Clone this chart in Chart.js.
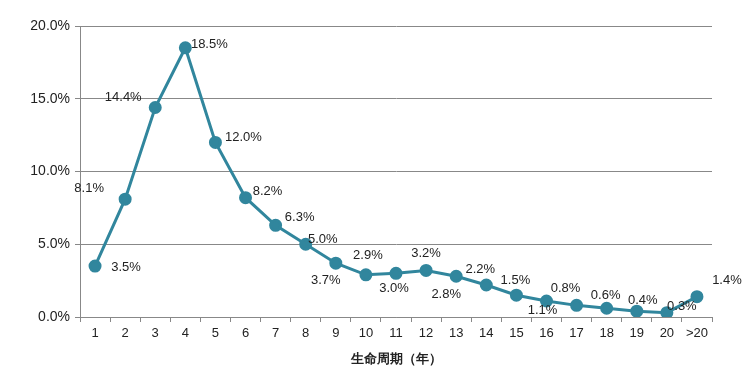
<!DOCTYPE html>
<html>
<head>
<meta charset="utf-8">
<script src="https://cdn.jsdelivr.net/npm/chart.js@4"></script>
<style>
  html, body { margin: 0; padding: 0; background: #fff; }
  #wrap { width: 750px; height: 371px; }
</style>
</head>
<body>
<div id="wrap"><canvas id="chart" width="750" height="371"></canvas></div>
<script>
// Data
const categories = ['1','2','3','4','5','6','7','8','9','10','11','12','13','14','15','16','17','18','19','20','>20'];
const shareValues = [3.5, 8.1, 14.4, 18.5, 12.0, 8.2, 6.3, 5.0, 3.7, 2.9, 3.0, 3.2, 2.8, 2.2, 1.5, 1.1, 0.8, 0.6, 0.4, 0.3, 1.4];
const yTicks = [0, 5, 10, 15, 20];

// label centre offset from its point, in px (style only)
const labelOffset = [
    [31, 1], [-36, -11], [-32, -10], [24, -3], [28, -5], [22, -6], [24, -8],
    [17, -5], [-10, 17], [2, -19], [-2, 15], [0, -17], [-10, 18], [-6, -16],
    [-1, -15], [-4, 9], [-11, -17], [-1, -13], [6, -11], [15, -6], [30, -16]
];

const lineColor = '#31869D';
const font = 'Arial, "Liberation Sans", sans-serif';

const valueLabels = {
    id: 'valueLabels',
    afterDatasetsDraw(chart) {
        const ctx = chart.ctx;
        const pts = chart.getDatasetMeta(0).data;
        ctx.save();
        ctx.font = '13px ' + font;
        ctx.fillStyle = '#222';
        ctx.textAlign = 'center';
        ctx.textBaseline = 'middle';
        pts.forEach((p, i) => {
            const [dx, dy] = labelOffset[i];
            ctx.fillText(shareValues[i].toFixed(1) + '%', p.x + dx, p.y + dy);
        });
        ctx.restore();
    }
};

new Chart(document.getElementById('chart'), {
    type: 'line',
    data: {
        labels: categories,
        datasets: [{
            data: shareValues,
            borderColor: lineColor,
            backgroundColor: lineColor,
            borderWidth: 3,
            pointRadius: 5,
            pointHoverRadius: 5,
            pointBackgroundColor: lineColor,
            pointBorderColor: lineColor,
            tension: 0
        }]
    },
    options: {
        responsive: false,
        animation: false,
        layout: { padding: { top: 26, right: 38, left: 0, bottom: 0 } },
        plugins: { legend: { display: false }, tooltip: { enabled: false } },
        scales: {
            x: {
                offset: true,
                grid: { offset: true, drawOnChartArea: false, color: '#888', tickLength: 5 },
                border: { color: '#888' },
                ticks: { color: '#222', font: { family: font, size: 13 }, padding: 4, maxRotation: 0, autoSkip: false },
                title: { display: true, text: '生命周期（年）', color: '#222', font: { family: font, size: 13, weight: 'bold' }, padding: { top: 4 } },
                afterFit: (s) => { s.height = 54; }
            },
            y: {
                min: 0, max: 20,
                afterBuildTicks: (s) => { s.ticks = yTicks.map(v => ({ value: v })); },
                grid: { color: '#888', tickLength: 5 },
                border: { color: '#888' },
                ticks: { color: '#222', font: { family: font, size: 14 }, padding: 5, callback: (v) => v.toFixed(1) + '%' },
                afterFit: (s) => { s.width = 80; }
            }
        }
    },
    plugins: [valueLabels]
});
</script>
</body>
</html>
